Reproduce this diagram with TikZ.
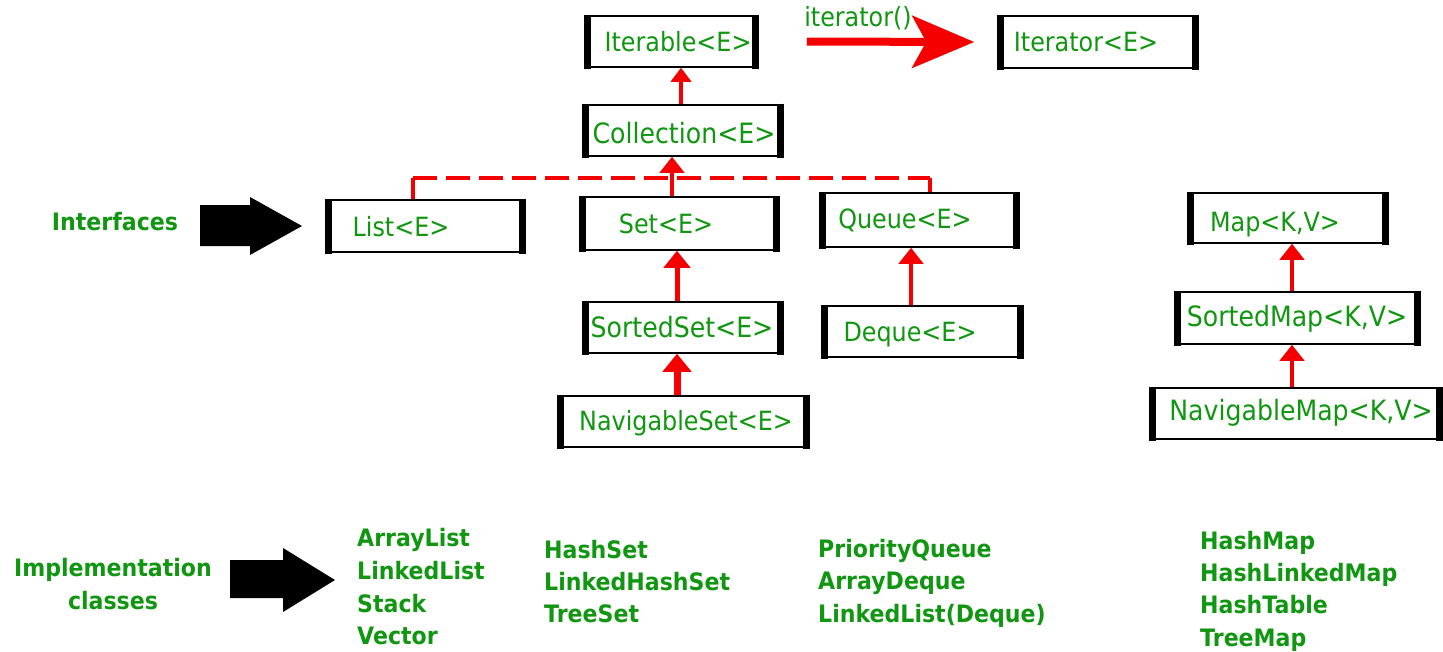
\documentclass[tikz,border=0pt]{standalone}
\usepackage{fontspec}
\setmainfont{DejaVu Sans}
\newfontfamily\condfont[FakeStretch=0.9]{DejaVu Sans}
\newfontfamily\condbold[FakeStretch=0.92]{DejaVu Sans}
\usetikzlibrary{arrows.meta}
\definecolor{jgreen}{RGB}{16,150,16}
\definecolor{jred}{RGB}{245,0,0}
\newcommand\jbox[5]{%
  \node[ibox, minimum width={#4-#2}, minimum height={#5-#3}] (#1) at ({(#2+#4)/2},{(#3+#5)/2}) {};
  \draw[sidebar] ([xshift=2.75pt]#1.north west) -- ([xshift=2.75pt]#1.south west);
  \draw[sidebar] ([xshift=-2.75pt]#1.north east) -- ([xshift=-2.75pt]#1.south east);
}
\begin{document}
\begin{tikzpicture}[x=1pt,y=-1pt,
  ibox/.style={draw=black, line width=1.5pt, fill=white, inner sep=0pt},
  sidebar/.style={line width=7pt, line cap=butt, shorten <=-0.75pt, shorten >=-0.75pt},
  lbl/.style={text=jgreen, font=\condfont\fontsize{26.5}{30}\selectfont, inner sep=0pt, text height=19.3pt, text depth=0pt},
  lblbig/.style={lbl, font=\condfont\fontsize{28}{32}\selectfont, text height=20.4pt},
  impl/.style={text=jgreen, font=\condbold\bfseries\fontsize{24}{28}\selectfont, inner sep=0pt, text height=17.5pt, text depth=0pt, anchor=west},
  side/.style={text=jgreen, font=\condbold\bfseries\fontsize{24}{28}\selectfont, inner sep=0pt, text height=17.5pt, text depth=0pt},
  inh/.style={draw=jred, line width=4.5pt, -{Triangle[width=24pt,length=16pt]}},
  blockarrow/.style={fill=black},
]
\useasboundingbox (0,0) rectangle (1443,651);

% boxes
\jbox{iterable}{585}{16}{757}{67}
\jbox{iterator}{998}{16}{1197}{68}
\jbox{collection}{583}{105}{782}{156}
\jbox{list}{326}{200}{524}{252}
\jbox{set}{580}{197}{778}{250}
\jbox{queue}{820}{193}{1018}{247}
\jbox{sortedset}{583}{302}{782}{353}
\jbox{deque}{822}{306}{1022}{357}
\jbox{navset}{558}{396}{808}{447}
\jbox{map}{1188}{193}{1387}{243}
\jbox{sortedmap}{1175}{292}{1419}{344}
\jbox{navmap}{1150}{388}{1441}{439}

% box texts
\node[lbl] (t-iterable) at (678,42) {Iterable<E>};
\node[lbl] (t-iterator) at (1086,42) {Iterator<E>};
\node[lblbig] (t-collection) at (684,133) {Collection<E>};
\node[lbl] (t-list) at (401,227) {List<E>};
\node[lbl] (t-set) at (666,224) {Set<E>};
\node[lbl] (t-queue) at (905,219) {Queue<E>};
\node[lblbig] (t-sortedset) at (682,327) {SortedSet<E>};
\node[lbl] (t-deque) at (910,332) {Deque<E>};
\node[lbl] (t-navset) at (686,421) {NavigableSet<E>};
\node[lbl] (t-map) at (1275,222) {Map<K,V>};
\node[lblbig] (t-sortedmap) at (1297,316) {SortedMap<K,V>};
\node[lblbig] (t-navmap) at (1301,410) {NavigableMap<K,V>};

% iterator() arrow
\node[lbl] (t-itm) at (858,17) {iterator()};
\draw[jred, line width=8pt, -{Stealth[length=62pt,width=52pt,inset=14pt]}]
  ([xshift=49pt]iterable.east) -- ([xshift=-23pt]iterator.west);

% inheritance arrows
\draw[inh, line width=4pt, -{Triangle[width=20pt,length=14pt]}] ([xshift=-1.5pt]collection.north) -- ([xshift=10pt]iterable.south);
\draw[inh] ([xshift=-7pt]set.north) -- ([xshift=-10.5pt]collection.south);
\draw[inh, line width=5pt, -{Triangle[width=26pt,length=17pt]}] ([xshift=-5.5pt]sortedset.north) -- ([xshift=-2pt]set.south);
\draw[inh, line width=7pt, -{Triangle[width=28pt,length=18pt]}] ([xshift=-6pt]navset.north) -- ([xshift=-5.5pt]sortedset.south);
\draw[inh] ([xshift=-11pt]deque.north) -- ([xshift=-8pt]queue.south);
\draw[inh] ([xshift=-5pt]sortedmap.north) -- ([xshift=4.5pt]map.south);
\draw[inh] ([xshift=-3.5pt]navmap.north) -- ([xshift=-5pt]sortedmap.south);

% dashed connector List / Queue
\coordinate (dl) at (413,178);
\coordinate (dr) at (930,178);
\draw[jred, line width=4pt] ([xshift=-12pt]list.north) -- (dl);
\draw[jred, line width=4pt, dash pattern=on 24pt off 9pt] (dl) -- (dr);
\draw[jred, line width=4pt] (dr) -- ([xshift=11pt]queue.north);

% side labels and block arrows
\node[side] (interfaces) at (115,222) {Interfaces};
\fill[blockarrow] (200,205) -- (250,205) -- (250,197) -- (302,226) -- (250,255) -- (250,246) -- (200,246) -- cycle;
\node[side] (implementation) at (113,568) {Implementation};
\node[side] (classes) at (113,601) {classes};
\fill[blockarrow] (230,560) -- (283,560) -- (283,548) -- (335,580) -- (283,612) -- (283,598) -- (230,598) -- cycle;

% implementation classes
\node[impl] (c1) at (357,538) {ArrayList};
\node[impl] (c2) at (357,571) {LinkedList};
\node[impl] (c3) at (357,604) {Stack};
\node[impl] (c4) at (357,636) {Vector};
\node[impl] (c5) at (544,550) {HashSet};
\node[impl] (c6) at (544,582) {LinkedHashSet};
\node[impl] (c7) at (544,614) {TreeSet};
\node[impl] (c8) at (818,549) {PriorityQueue};
\node[impl] (c9) at (818,581) {ArrayDeque};
\node[impl] (c10) at (818,614) {LinkedList(Deque)};
\node[impl] (c11) at (1200,541) {HashMap};
\node[impl] (c12) at (1200,573) {HashLinkedMap};
\node[impl] (c13) at (1200,605) {HashTable};
\node[impl] (c14) at (1200,638) {TreeMap};
\end{tikzpicture}
\end{document}
